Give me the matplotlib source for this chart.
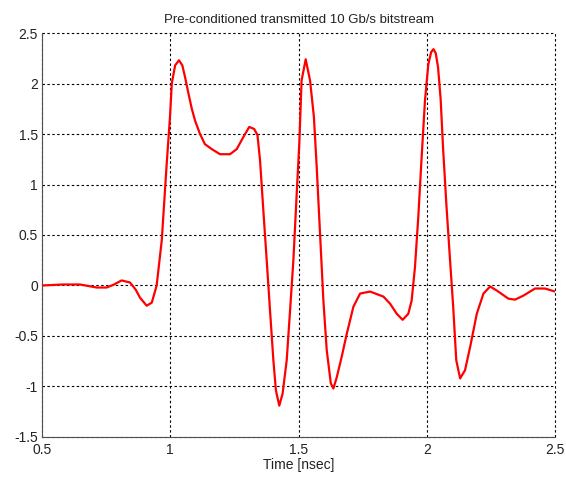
import numpy as np
import matplotlib
matplotlib.use('Agg')
import matplotlib.pyplot as plt

# sampled waveform of the pre-conditioned bitstream
t_ns = [0.500, 0.582, 0.648, 0.713, 0.752, 0.781, 0.810, 0.843, 0.865, 0.882,
        0.908, 0.928, 0.947, 0.967, 0.986, 0.999, 1.006, 1.019, 1.034, 1.047,
        1.058, 1.071, 1.084, 1.097, 1.116, 1.135, 1.162, 1.194, 1.233, 1.259,
        1.285, 1.308, 1.327, 1.340, 1.350, 1.363, 1.376, 1.389, 1.402, 1.412,
        1.425, 1.438, 1.454, 1.467, 1.480, 1.493, 1.503, 1.512, 1.528, 1.545,
        1.560, 1.571, 1.584, 1.597, 1.610, 1.626, 1.636, 1.649, 1.668, 1.688,
        1.714, 1.740, 1.779, 1.831, 1.857, 1.883, 1.906, 1.928, 1.941, 1.954,
        1.967, 1.980, 1.993, 2.006, 2.017, 2.026, 2.035, 2.044, 2.054, 2.064,
        2.077, 2.090, 2.103, 2.115, 2.130, 2.149, 2.169, 2.195, 2.221, 2.247,
        2.273, 2.318, 2.344, 2.377, 2.422, 2.461, 2.500]
amp = [0.00, 0.01, 0.01, -0.02, -0.02, 0.01, 0.05, 0.03, -0.04, -0.12,
       -0.20, -0.17, 0.00, 0.45, 1.20, 1.67, 2.00, 2.18, 2.23, 2.18,
       2.06, 1.90, 1.75, 1.63, 1.50, 1.40, 1.35, 1.30, 1.30, 1.35,
       1.47, 1.57, 1.55, 1.49, 1.24, 0.74, 0.25, -0.25, -0.74, -1.04,
       -1.19, -1.07, -0.74, -0.25, 0.25, 0.91, 1.40, 2.03, 2.24, 2.03,
       1.67, 1.17, 0.51, -0.15, -0.64, -0.97, -1.02, -0.91, -0.71, -0.48,
       -0.21, -0.08, -0.06, -0.11, -0.18, -0.28, -0.34, -0.28, -0.15, 0.18,
       0.68, 1.27, 1.83, 2.19, 2.31, 2.34, 2.30, 2.16, 1.85, 1.34,
       0.78, 0.28, -0.21, -0.74, -0.92, -0.84, -0.61, -0.28, -0.08, -0.01,
       -0.05, -0.13, -0.14, -0.10, -0.03, -0.03, -0.06]

xticks = [0.5, 1, 1.5, 2, 2.5]
yticks = [-1.5, -1, -0.5, 0, 0.5, 1, 1.5, 2, 2.5]
xtick_labels = ['0.5', '1', '1.5', '2', '2.5']
ytick_labels = ['-1.5', '-1', '-0.5', '0', '0.5', '1', '1.5', '2', '2.5']

plt.rcParams['font.family'] = ['Liberation Sans', 'DejaVu Sans']

fig = plt.figure(figsize=(5.66, 4.82), dpi=100)
ax = fig.add_axes([0.0742, 0.0934, 0.9064, 0.8381])

ax.plot(t_ns, amp, color='red', lw=1.6, zorder=3,
        solid_joinstyle='round', solid_capstyle='round')

ax.set_xlim(0.5, 2.5)
ax.set_ylim(-1.5, 2.5)
ax.set_xticks(xticks)
ax.set_xticklabels(xtick_labels)
ax.set_yticks(yticks)
ax.set_yticklabels(ytick_labels)
ax.tick_params(length=0, labelsize=10, labelcolor='#222222')
ax.tick_params(axis='x', pad=4)
ax.tick_params(axis='y', pad=3)
ax.grid(True, color='black', linestyle=(0, (2.2, 2.2)), linewidth=0.8)
for tick in ax.xaxis.get_major_ticks() + ax.yaxis.get_major_ticks():
    tick.gridline.set_clip_on(False)

ax.spines['top'].set_visible(False)
ax.spines['right'].set_visible(False)
ax.spines['left'].set_color('#505050')
ax.spines['bottom'].set_color('#505050')

ax.set_title('Pre-conditioned transmitted 10 Gb/s bitstream', fontsize=9.5,
             pad=7, color='#222222')
ax.set_xlabel('Time [nsec]', fontsize=10, labelpad=1, color='#222222')

fig.savefig('out.png', dpi=100)
